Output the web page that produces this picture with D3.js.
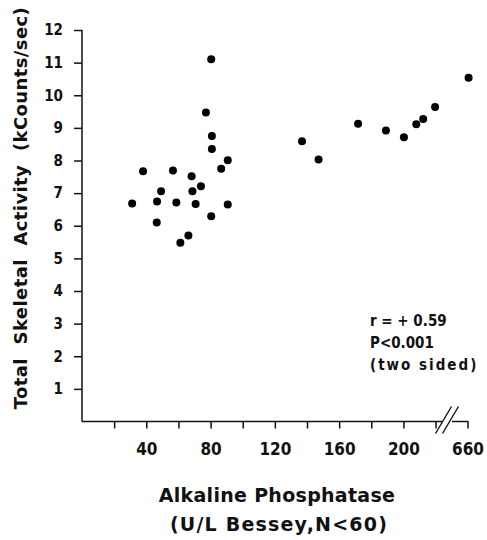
<!DOCTYPE html>
<html>
<head>
<meta charset="utf-8">
<script src="https://cdn.jsdelivr.net/npm/d3@7"></script>
<style>
  body { margin: 0; background: #fff; }
  text { font-family: "DejaVu Sans", sans-serif; fill: #111; }
</style>
</head>
<body>
<svg id="chart"></svg>
<script>
// alkaline phosphatase (U/L) vs total skeletal activity (kCounts/sec)
var alkP = [31.2, 38.0, 46.5, 46.7, 49.2, 56.6, 58.7, 61.2, 66.2, 68.2, 68.7, 70.7,
            74.0, 77.1, 80.4, 80.8, 80.8, 80.4, 86.6, 90.7, 90.7,
            136.9, 147.2, 171.8, 189.1, 200.3, 208.0, 212.3, 219.7, 660.7];
var activity = [6.68, 7.67, 6.10, 6.74, 7.06, 7.69, 6.71, 5.48, 5.70, 7.52, 7.06, 6.67,
                7.21, 9.47, 11.10, 8.75, 8.35, 6.29, 7.75, 8.01, 6.65,
                8.59, 8.03, 9.13, 8.92, 8.71, 9.11, 9.27, 9.64, 10.54];
var xTicks = [20, 40, 60, 80, 100, 120, 140, 160, 180, 200, 220, 660];
var xLabels = [40, 80, 120, 160, 200, 660];
var yTicks = [1, 2, 3, 4, 5, 6, 7, 8, 9, 10, 11, 12];
var notes = ["r = + 0.59", "P<0.001", "(two sided)"];

var width = 487, height = 540;
var svg = d3.select("#chart").attr("width", width).attr("height", height);

// broken x axis: 0-224 then a jump to 650-670
var x = d3.scaleLinear().domain([0, 224, 650, 660]).range([82, 442, 452, 467.5]);
var y = d3.scaleLinear().domain([0, 12]).range([421.5, 30]);

var g = svg.append("g");

// y axis
var yAxis = g.append("g")
    .attr("transform", "translate(" + x(0) + ",0)")
    .call(d3.axisLeft(y).tickValues(yTicks).tickSize(8).tickPadding(11));
yAxis.select(".domain").remove();
yAxis.append("line")
    .attr("x1", 0).attr("x2", 0)
    .attr("y1", y(0)).attr("y2", y(12))
    .attr("stroke", "#111").attr("stroke-width", 1.5);
yAxis.selectAll(".tick line").attr("stroke", "#111").attr("stroke-width", 1.5);
yAxis.selectAll(".tick text")
    .attr("font-size", 15).attr("font-weight", "bold")
    .attr("font-family", "DejaVu Sans Condensed, DejaVu Sans")
    .style("font-stretch", "condensed").style("fill", "#111");

// x axis
var xAxis = g.append("g")
    .attr("transform", "translate(0," + y(0) + ")")
    .call(d3.axisBottom(x).tickValues(xTicks).tickSize(7).tickPadding(14)
        .tickFormat(d => xLabels.includes(d) ? d : ""));
xAxis.select(".domain").remove();
xAxis.append("line")
    .attr("x1", x(0)).attr("x2", x(224))
    .attr("stroke", "#111").attr("stroke-width", 1.5);
xAxis.append("line")
    .attr("x1", x(650)).attr("x2", x(660) + 0.75)
    .attr("stroke", "#111").attr("stroke-width", 1.5);
xAxis.selectAll(".tick line").attr("stroke", "#111").attr("stroke-width", 1.5);
xAxis.selectAll(".tick text")
    .attr("font-size", 17).attr("font-weight", "bold")
    .style("font-stretch", "condensed")
    .attr("font-family", "DejaVu Sans Condensed, DejaVu Sans").style("fill", "#111");

// break marks //
var bx = (x(224) + x(650)) / 2;
[-3.5, 3.5].forEach(function(off) {
    xAxis.append("line")
        .attr("x1", bx + off - 8).attr("y1", 12)
        .attr("x2", bx + off + 8).attr("y2", -15)
        .attr("stroke", "#111").attr("stroke-width", 1.4);
});

// points
g.selectAll(".dot")
    .data(alkP.map((d, i) => ({x: d, y: activity[i]})))
    .enter()
    .append("circle")
    .classed("dot", true)
    .attr("cx", d => x(d.x))
    .attr("cy", d => y(d.y))
    .attr("r", 4)
    .attr("fill", "#000");

// statistics note
g.selectAll(".note")
    .data(notes)
    .enter()
    .append("text")
    .classed("note", true)
    .attr("x", 370)
    .attr("y", (d, i) => 326 + i * 22)
    .attr("font-size", 15)
    .attr("font-weight", "bold")
    .attr("font-family", "DejaVu Sans Condensed, DejaVu Sans")
    .style("font-stretch", "condensed")
    .style("letter-spacing", (d, i) => i === 2 ? "2px" : "0px")
    .text(d => d);

// axis titles
svg.append("text")
    .attr("transform", "translate(27," + 208 + ") rotate(-90)")
    .attr("text-anchor", "middle")
    .attr("font-size", 18)
    .attr("font-weight", "bold")
    .style("word-spacing", "7px")
    .style("letter-spacing", "0.4px")
    .text("Total Skeletal Activity (kCounts/sec)");

svg.append("text")
    .attr("x", 277).attr("y", 502)
    .attr("text-anchor", "middle")
    .attr("font-size", 19)
    .attr("font-weight", "bold")
    .style("letter-spacing", "0.3px")
    .text("Alkaline Phosphatase");

svg.append("text")
    .attr("x", 279).attr("y", 531)
    .attr("text-anchor", "middle")
    .attr("font-size", 19)
    .attr("font-weight", "bold")
    .style("letter-spacing", "1.2px")
    .text("(U/L Bessey,N<60)");
</script>
</body>
</html>
